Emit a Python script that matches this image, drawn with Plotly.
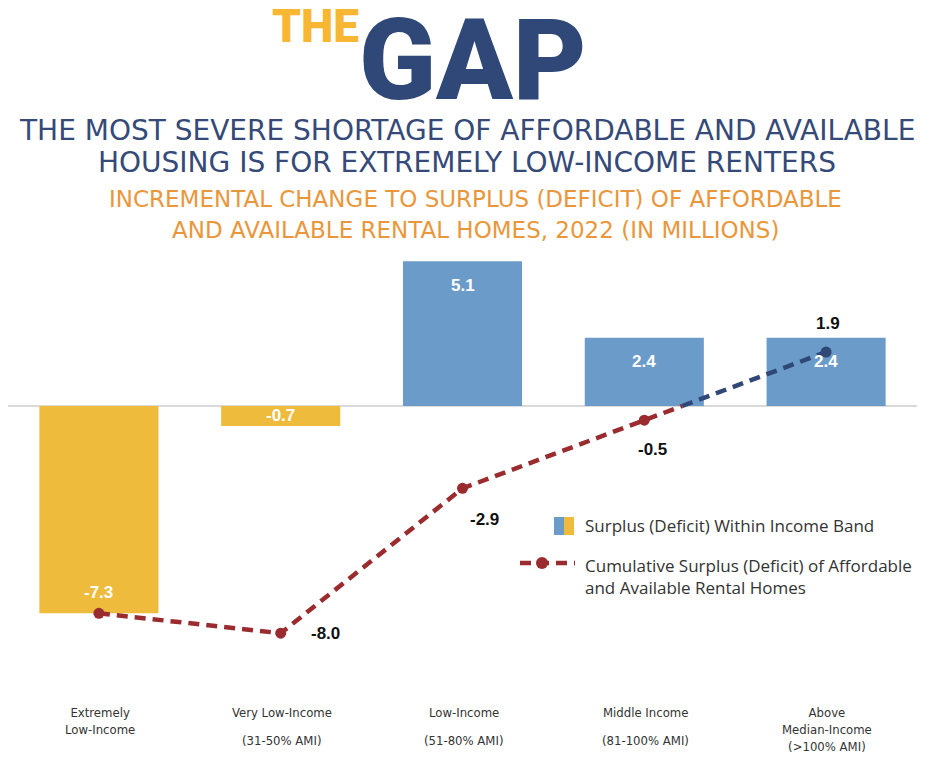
import plotly.graph_objects as go

categories = ["Extremely Low-Income", "Very Low-Income", "Low-Income", "Middle Income", "Above Median-Income"]
tick_top = ["Extremely<br>Low-Income", "Very Low-Income", "Low-Income", "Middle Income",
            "Above<br>Median-Income<br>(>100% AMI)"]
tick_ami = ["", "(31-50% AMI)", "(51-80% AMI)", "(81-100% AMI)", ""]
band_values = [-7.3, -0.7, 5.1, 2.4, 2.4]
cumulative = [-7.3, -8.0, -2.9, -0.5, 1.9]

title_lines = ["THE MOST SEVERE SHORTAGE OF AFFORDABLE AND AVAILABLE",
               "HOUSING IS FOR EXTREMELY LOW-INCOME RENTERS"]
subtitle_lines = ["INCREMENTAL CHANGE TO SURPLUS (DEFICIT) OF AFFORDABLE",
                  "AND AVAILABLE RENTAL HOMES, 2022 (IN MILLIONS)"]

GOLD = "#EEBB3D"
BLUE = "#6B9BC9"
RED = "#9A2B2E"
NAVY = "#2F4878"
ORANGE = "#EA973C"

W, H = 935, 761
OFF = 8  # page body margin offset
ML, MR, MT, MB = 0, 26, 247, 79
PX_PER_UNIT = 28.4
zero_y = 406 - OFF


def px(x):
    return (x - OFF - ML) / (W - ML - MR)


def py(y):
    return (H - MB - (y - OFF)) / (H - MT - MB)


y_top = (zero_y - MT) / PX_PER_UNIT
y_bot = -(H - MB - zero_y) / PX_PER_UNIT

fig = go.Figure()

fig.add_trace(go.Bar(
    x=list(range(len(categories))),
    y=band_values,
    width=0.655,
    marker=dict(color=[BLUE if v > 0 else GOLD for v in band_values], line=dict(width=0)),
    showlegend=False,
    hoverinfo="skip",
))

# cumulative line: red below zero, navy above (split at the zero crossing)
xs = list(range(len(cumulative)))
cross = None
for i in range(len(cumulative) - 1):
    a, b = cumulative[i], cumulative[i + 1]
    if a < 0 <= b:
        cross = i + (0 - a) / (b - a)
        split = i
neg_x = xs[:split + 1] + [cross]
neg_y = cumulative[:split + 1] + [0]
pos_x = [cross] + xs[split + 1:]
pos_y = [0] + cumulative[split + 1:]

fig.add_trace(go.Scatter(x=neg_x, y=neg_y, mode="lines",
                         line=dict(color=RED, width=4.5, dash="11px,7px"),
                         showlegend=False, hoverinfo="skip"))
fig.add_trace(go.Scatter(x=pos_x, y=pos_y, mode="lines",
                         line=dict(color=NAVY, width=4.5, dash="11px,7px"),
                         showlegend=False, hoverinfo="skip"))
fig.add_trace(go.Scatter(x=xs, y=cumulative, mode="markers",
                         marker=dict(size=11, color=[NAVY if v > 0 else RED for v in cumulative]),
                         showlegend=False, hoverinfo="skip"))

annotations = []

# bar value labels
for i, v in enumerate(band_values):
    if abs(v) < 1:
        yv, shift = v / 2, 0
    else:
        yv, shift = v, (-24 if v > 0 else 21)
    annotations.append(dict(x=i, y=yv, yshift=shift, text=f"{v:.1f}", showarrow=False,
                            font=dict(family="Liberation Sans", size=17, color="white", weight="bold")))

# cumulative labels (first one shares the bar label)
offsets = [None, (45, 0), (22, -31), (8, -29), (2, 29)]
for i, v in enumerate(cumulative):
    if offsets[i] is None:
        continue
    dx, dy = offsets[i]
    annotations.append(dict(x=i, y=v, xshift=dx, yshift=dy, text=f"{v:.1f}", showarrow=False,
                            font=dict(family="Liberation Sans", size=17, color="#111", weight="bold")))

# category labels
cat_font = dict(family="DejaVu Sans Condensed, DejaVu Sans", size=13, color="#333")
for i in range(len(categories)):
    annotations.append(dict(x=i, xshift=1, y=py(703), yref="paper", yanchor="top", text=tick_top[i],
                            showarrow=False, align="center", font=cat_font))
    if tick_ami[i]:
        annotations.append(dict(x=i, xshift=1, y=py(731), yref="paper", yanchor="top", text=tick_ami[i],
                                showarrow=False, font=cat_font))

# header
annotations += [
    dict(x=px(361), y=py(-3), xref="paper", yref="paper", xanchor="right", yanchor="top",
         text="THE", showarrow=False,
         font=dict(family="Roboto", size=46, color="#F7B733", weight=900)),
    dict(x=px(473), y=py(-8), xref="paper", yref="paper", xanchor="center", yanchor="top",
         text="GAP", showarrow=False,
         font=dict(family="Roboto", size=113, color=NAVY, weight=900)),
]
for line, yc in zip(title_lines, [131, 163]):
    annotations.append(dict(x=px(467), y=py(yc), xref="paper", yref="paper", xanchor="center",
                            yanchor="middle", text=line, showarrow=False,
                            font=dict(family="DejaVu Sans", size=28, color="#354A78")))
for line, yc in zip(subtitle_lines, [199, 230]):
    annotations.append(dict(x=px(475), y=py(yc), xref="paper", yref="paper", xanchor="center",
                            yanchor="middle", text=line, showarrow=False,
                            font=dict(family="DejaVu Sans", size=23, color=ORANGE)))

# legend text
leg_font = dict(family="Open Sans", size=17, color="#333")
annotations += [
    dict(x=px(583), y=py(525), xref="paper", yref="paper", xanchor="left", yanchor="middle",
         text="Surplus (Deficit) Within Income Band", showarrow=False, font=leg_font),
    dict(x=px(583), y=py(576), xref="paper", yref="paper", xanchor="left", yanchor="middle",
         text="Cumulative Surplus (Deficit) of Affordable<br>and Available Rental Homes", showarrow=False,
         align="left", font=leg_font),
]

shapes = [
    dict(type="rect", xref="paper", yref="paper", x0=px(554), x1=px(564), y0=py(517), y1=py(535),
         fillcolor=BLUE, line=dict(width=0)),
    dict(type="rect", xref="paper", yref="paper", x0=px(564), x1=px(574), y0=py(517), y1=py(535),
         fillcolor=GOLD, line=dict(width=0)),
    dict(type="line", xref="paper", yref="paper", x0=px(520), x1=px(575), y0=py(563), y1=py(563),
         line=dict(color=RED, width=4.5, dash="11px,7px")),
    dict(type="circle", xref="paper", yref="paper", x0=px(536), x1=px(548), y0=py(557), y1=py(569),
         fillcolor=RED, line=dict(width=0)),
]

fig.update_layout(
    width=W, height=H,
    margin=dict(l=ML, r=MR, t=MT, b=MB),
    plot_bgcolor="white", paper_bgcolor="white",
    showlegend=False,
    annotations=annotations,
    shapes=shapes,
    xaxis=dict(range=[-0.5, len(categories) - 0.5], showticklabels=False, showgrid=False,
               zeroline=False, showline=False, fixedrange=True),
    yaxis=dict(range=[y_bot, y_top], showticklabels=False, showgrid=False,
               zeroline=True, zerolinecolor="#DADADA", zerolinewidth=2, showline=False),
)

fig.write_html("out.html")
